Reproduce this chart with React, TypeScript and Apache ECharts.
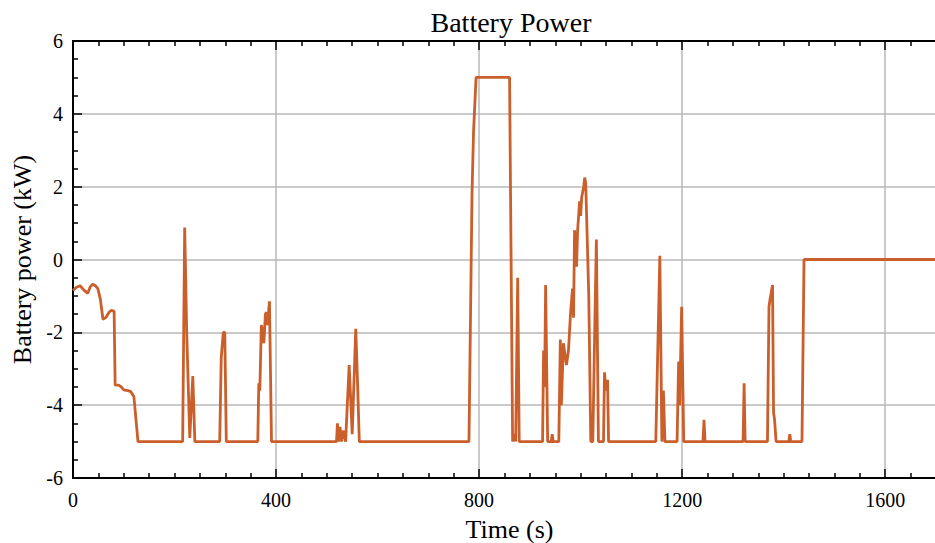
import React, { useEffect, useRef } from "react";
import * as echarts from "echarts";

const titleText = "Battery Power";
const xName = "Time (s)";
const yName = "Battery power (kW)";

const times = [
  0, 6, 14, 22, 29, 34, 39, 44, 49, 54, 59, 65, 71, 75, 81, 83, 90, 95, 100, 108, 114, 120, 128,
  216, 220, 224, 230, 236, 240, 289, 292, 296, 299, 302,
  364, 366, 368, 371, 374, 376, 379, 381, 383, 387, 391,
  519, 521, 523, 526, 529, 532, 537, 544, 550, 557, 561, 564,
  780, 786, 789, 794, 860, 866, 869, 872, 876, 879,
  925, 927, 929, 931, 935, 942, 944, 946, 957,
  960, 962, 966, 972, 976, 980, 984, 986, 988, 992, 994, 998, 1000, 1002, 1006, 1008, 1010, 1016, 1020,
  1024, 1027, 1031, 1035, 1045, 1047, 1050, 1053, 1055,
  1148, 1156, 1160, 1163, 1166, 1190, 1193, 1195, 1199, 1203,
  1241, 1243, 1245, 1320, 1322, 1324,
  1368, 1371, 1373, 1378, 1380, 1382, 1385, 1410, 1412, 1414, 1436, 1440, 1700,
];

const power = [
  -0.85, -0.77, -0.72, -0.85, -0.93, -0.75, -0.68, -0.72, -0.8, -1.1, -1.64, -1.59, -1.45, -1.4, -1.42, -3.45, -3.45, -3.5, -3.58, -3.6, -3.63, -3.77, -5.0,
  -5.0, 0.88, -2.0, -4.9, -3.2, -5.0, -5.0, -2.7, -2.0, -2.0, -5.0,
  -5.0, -3.4, -3.6, -1.8, -2.0, -2.3, -1.5, -1.45, -1.8, -1.15, -5.0,
  -5.0, -4.5, -5.0, -4.6, -5.0, -4.7, -5.0, -2.9, -4.8, -1.9, -3.6, -5.0,
  -5.0, 1.8, 3.5, 5.0, 5.0, -5.0, -4.8, -5.0, -0.5, -5.0,
  -5.0, -2.5, -3.5, -0.7, -5.0, -5.0, -4.8, -5.0, -5.0,
  -2.2, -4.0, -2.3, -2.9, -2.5, -1.5, -0.8, -1.6, 0.8, -0.2, 0.8, 1.6, 1.2, 1.7, 2.0, 2.25, 2.1, -1.0, -5.0,
  -5.0, -2.5, 0.55, -5.0, -5.0, -3.1, -3.6, -3.3, -5.0,
  -5.0, 0.1, -5.0, -3.6, -5.0, -5.0, -2.8, -4.0, -1.3, -5.0,
  -5.0, -4.4, -5.0, -5.0, -3.4, -5.0,
  -5.0, -1.3, -1.1, -0.7, -4.2, -4.4, -5.0, -5.0, -4.8, -5.0, -5.0, 0.0, 0.0,
];

const FONT = "'Liberation Serif', 'DejaVu Serif', serif";

export default function App() {
  const ref = useRef<HTMLDivElement>(null);
  useEffect(() => {
    if (!ref.current) return;
    const chart = echarts.init(ref.current, undefined, { renderer: "svg" });
    const data = times.map((t, i) => [t, power[i]]);
    const commonX = {
      type: "value" as const,
      min: 0,
      max: 1700,
      interval: 400,
      axisLine: { show: true, onZero: false, lineStyle: { color: "#000", width: 2 } },
      axisTick: { show: true, inside: true, length: 9, lineStyle: { color: "#000", width: 1.5 } },
      minorTick: { show: true, splitNumber: 8, length: 5, lineStyle: { color: "#000", width: 1.5 } },
    };
    chart.setOption({
      animation: false,
      backgroundColor: "#fff",
      textStyle: { fontFamily: FONT },
      title: {
        text: titleText,
        left: 506,
        top: 3,
        textAlign: "center",
        textStyle: { fontFamily: FONT, fontSize: 28, fontWeight: "normal", color: "#000" },
      },
      grid: { left: 73, right: -1, top: 41, bottom: 65, containLabel: false, outerBoundsMode: "none" },
      xAxis: [
        {
          ...commonX,
          position: "bottom",
          name: xName,
          nameLocation: "middle",
          nameGap: 38,
          nameTextStyle: { fontFamily: FONT, fontSize: 26, color: "#000", padding: [0, 0, 0, 10] },
          axisLabel: {
            fontFamily: FONT,
            fontSize: 20,
            color: "#000",
            margin: 12,
            showMaxLabel: false,
            formatter: (v: number) => String(v),
          },
          splitLine: { show: true, lineStyle: { color: "#b8b8b8", width: 1.5 } },
        },
        {
          ...commonX,
          position: "top",
          axisLabel: { show: false },
          splitLine: { show: false },
        },
      ],
      yAxis: {
        type: "value",
        min: -6,
        max: 6,
        interval: 2,
        name: yName,
        nameLocation: "middle",
        nameGap: 38,
        nameRotate: 90,
        nameTextStyle: { fontFamily: FONT, fontSize: 26, color: "#000" },
        axisLine: { show: true, onZero: false, lineStyle: { color: "#000", width: 2 } },
        axisTick: { show: true, inside: true, length: 9, lineStyle: { color: "#000", width: 1.5 } },
        minorTick: { show: true, splitNumber: 4, length: 5, lineStyle: { color: "#000", width: 1.5 } },
        axisLabel: { fontFamily: FONT, fontSize: 20, color: "#000", margin: 10 },
        splitLine: { show: true, lineStyle: { color: "#b8b8b8", width: 1.5 } },
      },
      series: [
        {
          type: "line",
          data,
          xAxisIndex: 0,
          showSymbol: false,
          symbol: "none",
          lineStyle: { color: "#ca5f2b", width: 2.8 },
          itemStyle: { color: "#ca5f2b" },
        },
      ],
    });
    return () => chart.dispose();
  }, []);
  return (
    <div
      ref={ref}
      style={{ position: "fixed", left: 0, top: 0, width: 935, height: 543 }}
    />
  );
}
